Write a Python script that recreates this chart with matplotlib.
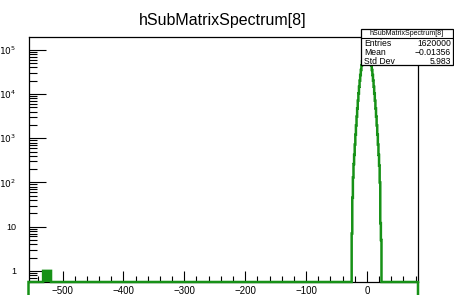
import numpy as np
import matplotlib
matplotlib.use("Agg")
import matplotlib.pyplot as plt
from matplotlib.patches import Rectangle
from matplotlib.ticker import FixedLocator, LogLocator, NullFormatter

plt.rcParams['font.family'] = ['Liberation Sans', 'DejaVu Sans']

title = "hSubMatrixSpectrum[8]"

# histogram range (bin width 1)
x_lo, x_hi = -556, 84
y_lo, y_hi = 0.56, 1.95e5

# main peak, bins from -25 to 24
peak_lo = -25
peak_counts = [7, 45, 130, 260, 420, 720, 1200, 1950, 3080, 4730, 7080, 10300,
               14600, 20100, 26900, 35000, 44300, 54500, 65300, 76100, 86200,
               95100, 101900, 106200, 107700, 106200, 101900, 95100, 86200,
               76100, 65300, 54500, 44300, 35000, 26900, 20100, 14600, 10300,
               7080, 4730, 3080, 1950, 1200, 720, 420, 240, 100, 12, 5]

# isolated single entries near -525
outlier_lo = -532
outlier_counts = [1] * 13

stats_labels = ["Entries", "Mean", "Std Dev"]
stats_values = ["1620000", "\u22120.01356", "5.983"]

xticks = [-500, -400, -300, -200, -100, 0]
yticks = [1, 10, 1e2, 1e3, 1e4, 1e5]
ytick_labels = ["1", "10", "$10^{2}$", "$10^{3}$", "$10^{4}$", "$10^{5}$"]

green = "#179117"
W, H = 454, 295

fig = plt.figure(figsize=(W / 100, H / 100), dpi=100)
# frame in pixels: left 28.5, right 418, top 37, bottom 282
ax = fig.add_axes([28.5 / W, 1 - 282 / H, (418 - 28.5) / W, (282 - 37) / H])

edges = np.arange(x_lo, x_hi + 1)
counts = np.zeros(len(edges) - 1)
i0 = peak_lo - x_lo
counts[i0:i0 + len(peak_counts)] = peak_counts
j0 = outlier_lo - x_lo
counts[j0:j0 + len(outlier_counts)] = outlier_counts

ax.stairs(np.where(counts > 0, counts, y_lo), edges, color=green, lw=1.8,
          clip_on=False, zorder=3)
o_edges = np.arange(outlier_lo, outlier_lo + len(outlier_counts) + 1)
ax.stairs(outlier_counts, o_edges, baseline=y_lo, fill=True, color=green,
          zorder=3)

ax.set_yscale("log")
ax.set_xlim(x_lo, x_hi)
ax.set_ylim(y_lo, y_hi)

ax.xaxis.set_major_locator(FixedLocator(xticks))
ax.xaxis.set_minor_locator(FixedLocator(np.arange(-540, 81, 20)))
ax.set_xticklabels([str(t).replace("-", "\u2212") for t in xticks], fontsize=7)
ax.yaxis.set_major_locator(FixedLocator(yticks))
ax.yaxis.set_minor_locator(LogLocator(base=10, subs=np.arange(2, 10), numticks=20))
ax.yaxis.set_minor_formatter(NullFormatter())
ax.set_yticklabels(ytick_labels, fontsize=6.5)

ax.tick_params(axis="x", which="major", direction="in", length=8, width=0.8, pad=3)
ax.tick_params(axis="x", which="minor", direction="in", length=4, width=0.8)
ax.tick_params(axis="y", which="major", direction="in", length=12, width=0.8, pad=9)
ax.tick_params(axis="y", which="minor", direction="in", length=6, width=0.8)
for s in ax.spines.values():
    s.set_linewidth(0.9)

fig.text(223 / W, 1 - 20 / H, title, fontsize=11.5, ha="center", va="center")

# stats box
bx0, bx1, by0, by1, bsep = 361, 453, 29, 65, 37.5
fig.patches.append(Rectangle((bx0 / W, 1 - by1 / H), (bx1 - bx0) / W, (by1 - by0) / H,
                             transform=fig.transFigure, facecolor="white",
                             edgecolor="black", lw=0.9, zorder=5))
fig.add_artist(plt.Line2D([bx0 / W, bx1 / W], [1 - bsep / H, 1 - bsep / H],
                          transform=fig.transFigure, color="black", lw=0.8, zorder=6))
fig.text((bx0 + bx1) / 2 / W, 1 - 33.2 / H, title, fontsize=5, ha="center",
         va="center", zorder=7)
for k, (lab, val) in enumerate(zip(stats_labels, stats_values)):
    yy = 1 - (44 + 8.8 * k) / H
    fig.text(364 / W, yy, lab, fontsize=6.2, ha="left", va="center", zorder=7)
    fig.text(451 / W, yy, val, fontsize=6.2, ha="right", va="center", zorder=7)

fig.savefig("out.png", dpi=100)
